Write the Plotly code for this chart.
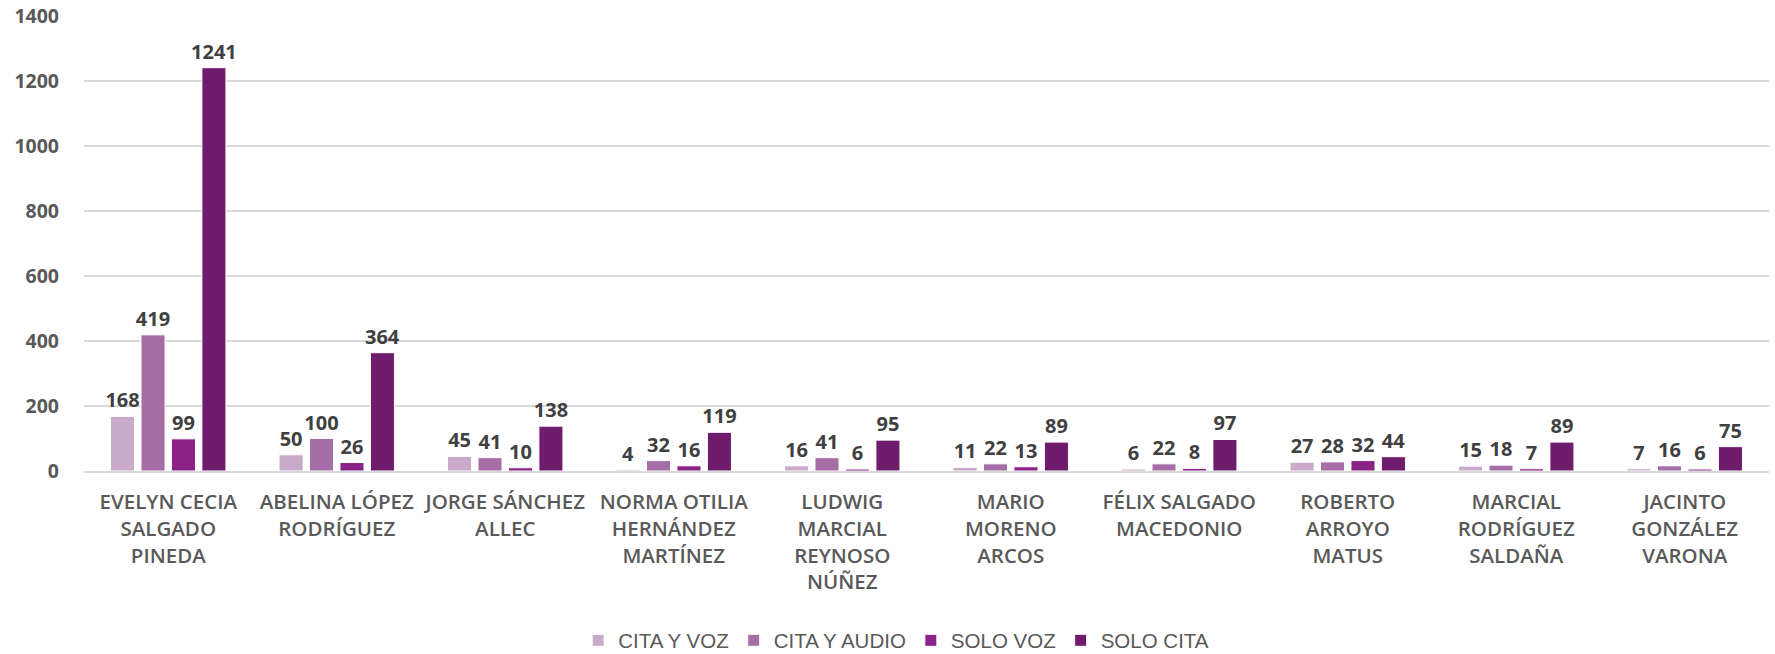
import plotly.graph_objects as go

categories = [
    "EVELYN CECIA<br>SALGADO<br>PINEDA",
    "ABELINA LÓPEZ<br>RODRÍGUEZ",
    "JORGE SÁNCHEZ<br>ALLEC",
    "NORMA OTILIA<br>HERNÁNDEZ<br>MARTÍNEZ",
    "LUDWIG<br>MARCIAL<br>REYNOSO<br>NÚÑEZ",
    "MARIO<br>MORENO<br>ARCOS",
    "FÉLIX SALGADO<br>MACEDONIO",
    "ROBERTO<br>ARROYO<br>MATUS",
    "MARCIAL<br>RODRÍGUEZ<br>SALDAÑA",
    "JACINTO<br>GONZÁLEZ<br>VARONA",
]
series_names = ["CITA Y VOZ", "CITA Y AUDIO", "SOLO VOZ", "SOLO CITA"]
cita_y_voz = [168, 50, 45, 4, 16, 11, 6, 27, 15, 7]
cita_y_audio = [419, 100, 41, 32, 41, 22, 22, 28, 18, 16]
solo_voz = [99, 26, 10, 16, 6, 13, 8, 32, 7, 6]
solo_cita = [1241, 364, 138, 119, 95, 89, 97, 44, 89, 75]
y_ticks = [0, 200, 400, 600, 800, 1000, 1200, 1400]

colors = ["#C8ABC8", "#A66EA6", "#8B2387", "#701C6D"]
text_color = "#595959"

fig = go.Figure()
for name, vals, col in zip(series_names, [cita_y_voz, cita_y_audio, solo_voz, solo_cita], colors):
    fig.add_trace(go.Bar(
        x=categories, y=vals, name=name,
        marker=dict(color=col, line=dict(color="white", width=1)),
        text=[str(v) for v in vals], textposition="outside",
        constraintext="none",
        textfont=dict(family="Open Sans", size=20, color="#404040", weight="bold"),
        cliponaxis=False,
    ))

fig.update_layout(
    width=1775, height=654,
    margin=dict(l=84, r=6, t=16, b=183, autoexpand=False),
    paper_bgcolor="white", plot_bgcolor="white",
    barmode="group", bargap=0.277, bargroupgap=0.21,
    font=dict(family="Open Sans", color=text_color),
    xaxis=dict(
        tickfont=dict(family="Open Sans", size=20.5, color=text_color, weight=600),
        showline=True, linecolor="#D9D9D9", linewidth=1.5,
        ticks="", ticklabelstandoff=12, automargin=False,
    ),
    yaxis=dict(
        range=[0, 1400], tickvals=y_ticks,
        tickfont=dict(family="Open Sans", size=19.5, color=text_color, weight="bold"),
        showgrid=True, gridcolor="#D9D9D9", gridwidth=1.5,
        zeroline=False, ticks="", ticklabelstandoff=24, automargin=False,
    ),
    legend=dict(
        orientation="h", x=0.482, xanchor="center", y=-0.3725, yanchor="middle",
        font=dict(family="Liberation Sans", size=20.5, color=text_color),
        itemwidth=30, traceorder="normal",
    ),
    showlegend=True,
)

# remove the default 8px page margin so the figure fills the window exactly
fig.write_html(
    "out.html",
    config={"displayModeBar": False},
    post_script="document.body.style.margin='0';",
)
